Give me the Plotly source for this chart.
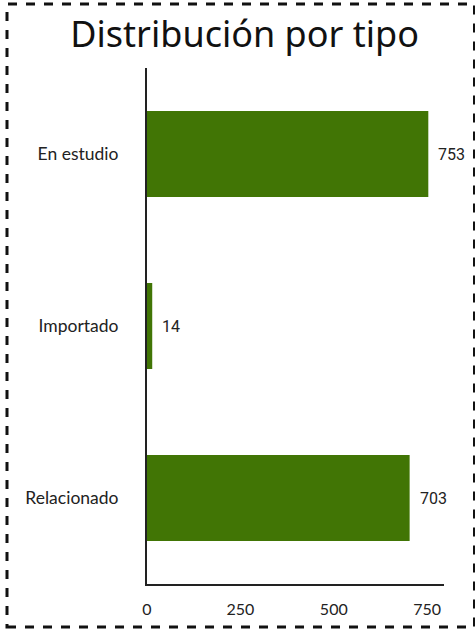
import plotly.graph_objects as go

categories = ["En estudio", "Importado", "Relacionado"]
values = [753, 14, 703]
x_ticks = [0, 250, 500, 750]

fig = go.Figure(go.Bar(
    x=values, y=categories, orientation="h",
    marker=dict(color="#417505", line=dict(width=0)),
    hoverinfo="x+y",
))

for cat, v in zip(categories, values):
    fig.add_annotation(x=v, y=cat, xref="x", yref="y", text=str(v),
                       showarrow=False, xanchor="left", xshift=8,
                       font=dict(family="Roboto", size=16, color="#222222"))

fig.update_layout(
    width=475, height=629,
    margin=dict(l=147, r=31, t=68, b=45),
    paper_bgcolor="white", plot_bgcolor="white",
    bargap=0.5,
    showlegend=False,
    title=dict(text="Distribución por tipo", x=0.515, xanchor="center",
               y=0.945, yanchor="middle",
               font=dict(family="Noto Sans", size=36, color="#111111")),
    xaxis=dict(range=[0, 795], tickvals=x_ticks, showgrid=False, zeroline=False,
               showline=True, linecolor="#222222", linewidth=2,
               tickfont=dict(family="Lato", size=16, color="#222222"), ticks="",
               ticklabelstandoff=10),
    yaxis=dict(autorange="reversed", showgrid=False, zeroline=False,
               showline=True, linecolor="#222222", linewidth=2,
               tickfont=dict(family="Lato", size=17.5, color="#222222"), ticks="",
               ticklabelstandoff=23),
    shapes=[dict(type="rect", xref="paper", yref="paper",
                 x0=(7-147)/297, x1=(474.5-147)/297,
                 y0=(584-627)/516, y1=(584-4)/516,
                 line=dict(color="#111111", width=3, dash="dash"))],
)

fig.write_html("out.html", config={"displayModeBar": False},
               post_script="document.body.style.margin='0';document.body.style.overflow='hidden';")
